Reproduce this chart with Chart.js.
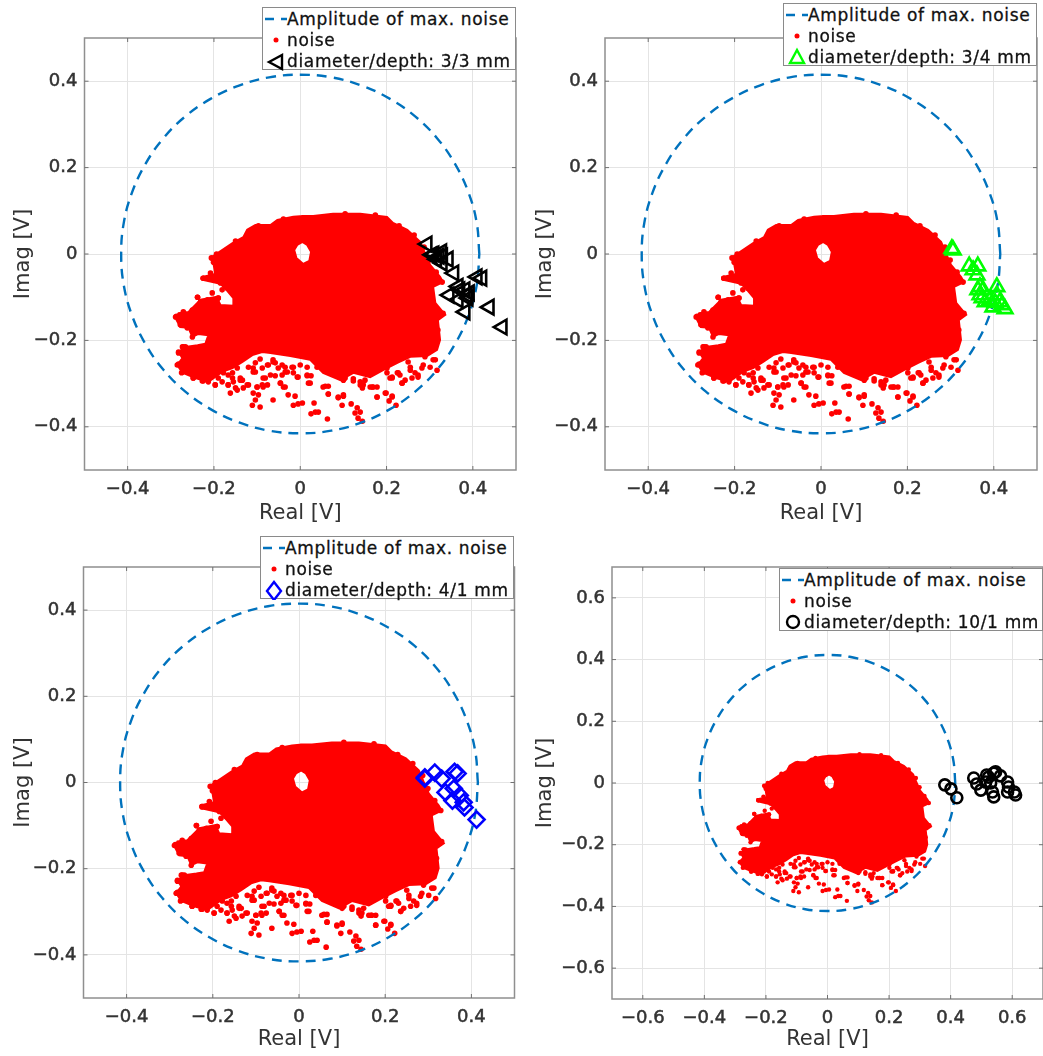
<!DOCTYPE html>
<html lang="en">
<head>
<meta charset="UTF-8" />
<title>Noise amplitude vs defects</title>
<script src="https://cdn.jsdelivr.net/npm/chart.js"></script>
<style>
  html, body { margin: 0; padding: 0; background: #fff; }
  #page { position: relative; width: 1043px; height: 1056px; overflow: hidden; }
  canvas { position: absolute; }
  .legend { position: absolute; box-sizing: border-box; background: #fff; border: 1.5px solid #8a8a8a; }
  .legend div { position: absolute; left: 24px; white-space: nowrap; color: #111;
    font: 17px "DejaVu Sans", sans-serif; letter-spacing: 0.65px; line-height: 20px;
    -webkit-text-stroke: 0.3px #111; }
  .legend svg { position: absolute; left: 0; top: 0; }
</style>
</head>
<body>
<div id="page">
  <canvas id="chart1"></canvas>
  <canvas id="chart2"></canvas>
  <canvas id="chart3"></canvas>
  <canvas id="chart4"></canvas>
</div>

<script>
  // circle of max. noise amplitude
  const circleRe = [0.415,0.409,0.390,0.359,0.318,0.267,0.208,0.142,0.072,0,-0.072,-0.142,-0.208,-0.267,-0.318,-0.359,-0.390,-0.409,-0.415,-0.409,-0.390,-0.359,-0.318,-0.267,-0.208,-0.142,-0.072,0,0.072,0.142,0.208,0.267,0.318,0.359,0.390,0.409,0.415];
  const circleIm = [0,0.072,0.142,0.208,0.267,0.318,0.359,0.390,0.409,0.415,0.409,0.390,0.359,0.318,0.267,0.208,0.142,0.072,0,-0.072,-0.142,-0.208,-0.267,-0.318,-0.359,-0.390,-0.409,-0.415,-0.409,-0.390,-0.359,-0.318,-0.267,-0.208,-0.142,-0.072,0];

  // edge of the dense noise cloud, runs through the hole near the origin
  const cloudRe = [-0.208,-0.181,-0.157,-0.132,-0.123,-0.104,-0.069,-0.053,-0.016,0.005,0.005,-0.007,-0.014,-0.009,0.007,0.021,0.025,0.016,0.005,0.005,0.030,0.076,0.139,0.201,0.215,0.248,0.278,0.289,0.301,0.324,0.331,0.308,0.313,0.336,0.319,0.324,0.317,0.294,0.255,0.225,0.192,0.162,0.123,0.093,0.053,0.023,-0.023,-0.069,-0.088,-0.111,-0.134,-0.157,-0.181,-0.213,-0.243,-0.273,-0.285,-0.273,-0.282,-0.266,-0.238,-0.220,-0.213,-0.236,-0.250,-0.259,-0.278,-0.289,-0.282,-0.259,-0.231,-0.194,-0.185,-0.155,-0.155,-0.171,-0.185,-0.225,-0.227,-0.197,-0.201,-0.208];
  const cloudIm = [-0.009,0.009,0.025,0.039,0.056,0.067,0.067,0.079,0.086,0.088,0.028,0.021,0.009,-0.009,-0.023,-0.016,0.005,0.021,0.028,0.088,0.088,0.093,0.093,0.086,0.072,0.056,0.028,0.002,-0.025,-0.053,-0.065,-0.076,-0.113,-0.141,-0.153,-0.199,-0.222,-0.236,-0.238,-0.252,-0.269,-0.285,-0.275,-0.292,-0.275,-0.245,-0.236,-0.229,-0.227,-0.234,-0.250,-0.264,-0.273,-0.296,-0.287,-0.275,-0.257,-0.241,-0.227,-0.215,-0.211,-0.208,-0.188,-0.185,-0.192,-0.171,-0.169,-0.148,-0.137,-0.134,-0.106,-0.099,-0.118,-0.120,-0.102,-0.083,-0.069,-0.060,-0.053,-0.046,-0.023,-0.009];

  // separate noise dots around the cloud
  const noiseRe = [-0.197,-0.162,-0.167,-0.150,-0.132,-0.120,-0.139,-0.157,-0.104,-0.074,-0.086,-0.088,-0.076,-0.069,-0.058,-0.100,-0.109,-0.097,-0.104,-0.111,-0.093,-0.063,-0.046,-0.035,-0.042,-0.028,-0.012,-0.016,-0.005,0.005,-0.016,-0.007,0.016,0.025,0.019,0.053,0.065,0.065,0.032,0.025,0.035,0.042,0.063,0.088,0.100,0.097,0.118,0.132,0.127,0.139,0.134,0.144,0.178,0.199,0.213,0.206,0.222,0.236,0.213,0.169,0.144,0.123,0.100,0.259,-0.282,-0.271,-0.285,-0.275,-0.248,-0.227,-0.213,-0.225,-0.208,-0.238,-0.204,-0.231,-0.213,-0.204,-0.190,-0.199,-0.174,-0.167,-0.139,-0.150,-0.127,-0.185,-0.181,-0.287,-0.271,-0.250,-0.234,
    -0.063,-0.042,-0.035,-0.046,-0.039,-0.016,-0.005,0.016,0.023,0.058,0.065,0.088,0.100,0.051,0.076,0.104,0.123,0.139,0.150,0.167,0.178,0.178,0.197,0.213,0.213,0.236,0.227,0.201,0.255,0.266,0.273,0.301,0.317,0.313,0.285,0.250,
    -0.167,-0.178,-0.155,-0.134,-0.167,-0.146,-0.123,-0.109,-0.120,-0.104,-0.093,-0.076,-0.063,-0.081,-0.086,-0.100,-0.197,-0.248,-0.225,-0.273,-0.282,-0.255,-0.282,-0.273,-0.266,-0.255,-0.289,-0.278,-0.262,-0.250,-0.238,-0.231,-0.215,-0.208,-0.190,-0.225,-0.208,-0.181,-0.169,-0.155,-0.130,
    0.329,0.331,0.319,0.308,0.282,0.273,0.255,0.289,-0.194,-0.206,-0.201,-0.150,-0.118,-0.097,-0.039,0.104,0.174,0.229,0.264,0.287,0.299,0.315,
    -0.146,-0.088,-0.058,-0.051,-0.035,-0.019,0,-0.030,0.016,0.039,0.063,0.139,0.146,0.162,0.201,0.225,0.231,0.208,0.243,-0.157,-0.139,-0.109,-0.190,-0.181];
  const noiseIm = [-0.303,-0.322,-0.303,-0.310,-0.310,-0.303,-0.287,-0.275,-0.273,-0.257,-0.287,-0.303,-0.303,-0.280,-0.282,-0.308,-0.322,-0.326,-0.338,-0.350,-0.354,-0.338,-0.299,-0.308,-0.280,-0.326,-0.329,-0.350,-0.347,-0.345,-0.275,-0.285,-0.282,-0.282,-0.299,-0.308,-0.306,-0.324,-0.345,-0.370,-0.366,-0.366,-0.382,-0.333,-0.329,-0.350,-0.347,-0.356,-0.368,-0.366,-0.380,-0.387,-0.331,-0.322,-0.329,-0.340,-0.350,-0.299,-0.287,-0.308,-0.310,-0.294,-0.292,-0.287,-0.229,-0.215,-0.257,-0.275,-0.287,-0.294,-0.296,-0.056,-0.044,-0.100,-0.090,-0.111,-0.111,-0.123,-0.102,-0.056,-0.053,-0.067,-0.079,-0.083,-0.081,-0.067,-0.083,-0.144,-0.134,-0.130,-0.132,
    -0.245,-0.257,-0.273,-0.299,-0.308,-0.262,-0.285,-0.280,-0.299,-0.306,-0.324,-0.331,-0.326,-0.262,-0.275,-0.287,-0.289,-0.303,-0.292,-0.308,-0.308,-0.331,-0.322,-0.331,-0.285,-0.299,-0.275,-0.264,-0.262,-0.275,-0.285,-0.262,-0.269,-0.245,-0.257,-0.250,
    -0.280,-0.275,-0.296,-0.292,-0.303,-0.315,-0.303,-0.264,-0.262,-0.252,-0.243,-0.257,-0.250,-0.287,-0.308,-0.308,-0.303,-0.287,-0.294,-0.273,-0.255,-0.257,-0.227,-0.215,-0.215,-0.234,-0.146,-0.164,-0.171,-0.192,-0.100,-0.111,-0.106,-0.123,-0.102,-0.056,-0.053,-0.065,-0.079,-0.072,-0.081,
    -0.065,-0.137,-0.176,-0.245,-0.264,-0.280,-0.269,-0.238,0,-0.009,-0.019,0.030,0.049,0.065,0.081,0.093,0.090,0.065,0.044,0.016,-0.014,-0.042,
    -0.264,-0.264,-0.252,-0.264,-0.262,-0.262,-0.257,-0.273,-0.262,-0.262,-0.269,-0.296,-0.303,-0.308,-0.275,-0.275,-0.280,-0.287,-0.292,-0.287,-0.292,-0.273,-0.287,-0.296];

  // defect measurements per panel
  const defect33Re = [0.294,0.322,0.310,0.330,0.316,0.328,0.305,0.343,0.329,0.356,0.410,0.421,0.345,0.366,0.370,0.382,0.387,0.389,0.382,0.438,0.468,0.366,0.392];
  const defect33Im = [0.023,-0.005,0,-0.005,-0.012,0.005,-0.002,-0.012,-0.021,-0.044,-0.053,-0.056,-0.095,-0.106,-0.083,-0.083,-0.095,-0.102,-0.134,-0.123,-0.169,-0.075,-0.090];
  const defect34Re = [0.306,0.303,0.343,0.363,0.352,0.361,0.368,0.363,0.375,0.368,0.373,0.380,0.391,0.407,0.407,0.403,0.414,0.398,0.426,0.419];
  const defect34Im = [0.009,0.012,-0.028,-0.028,-0.037,-0.049,-0.076,-0.083,-0.083,-0.095,-0.102,-0.111,-0.106,-0.076,-0.095,-0.113,-0.111,-0.123,-0.127,-0.118];
  const defect41Re = [0.292,0.292,0.315,0.331,0.340,0.359,0.356,0.373,0.382,0.384,0.361,0.368,0.412];
  const defect41Im = [0.009,0.012,0.023,0.009,-0.023,-0.014,-0.042,-0.030,-0.046,-0.058,0.025,0.021,-0.086];
  const defect101Re = [0.381,0.401,0.420,0.475,0.485,0.498,0.514,0.523,0.540,0.546,0.562,0.530,0.517,0.540,0.536,0.585,0.588,0.585,0.607,0.611];
  const defect101Im = [-0.006,-0.019,-0.048,0.016,-0.003,-0.023,0.003,0.019,0.032,0.036,0.023,0,0.026,-0.045,-0.029,0.003,-0.013,-0.029,-0.029,-0.039];

  // tick labels
  const ticksSmall = [-0.4,-0.2,0,0.2,0.4];
  const ticksLarge = [-0.6,-0.4,-0.2,0,0.2,0.4,0.6];

  const legendCircle = 'Amplitude of max. noise';
  const legendNoise = 'noise';
  const AXIS_COLOR = '#8f8f8f';
  const TEXT_COLOR = '#333333';

  function toPoints(xs, ys) {
    return xs.map((x, i) => ({ x: x, y: ys[i] }));
  }

  // frame and inward tick marks on all four sides, like the original plots
  const framePlugin = {
    id: 'frame',
    afterDraw(chart) {
      const ctx = chart.ctx, a = chart.chartArea;
      const xs = chart.scales.x, ys = chart.scales.y;
      ctx.save();
      ctx.strokeStyle = AXIS_COLOR;
      ctx.lineWidth = 1.5;
      ctx.strokeRect(a.left, a.top, a.right - a.left, a.bottom - a.top);
      ctx.lineWidth = 1;
      ctx.strokeStyle = '#707070';
      ctx.beginPath();
      xs.ticks.forEach(t => {
        const px = xs.getPixelForValue(t.value);
        ctx.moveTo(px, a.bottom); ctx.lineTo(px, a.bottom - 4);
        ctx.moveTo(px, a.top); ctx.lineTo(px, a.top + 4);
      });
      ys.ticks.forEach(t => {
        const py = ys.getPixelForValue(t.value);
        ctx.moveTo(a.left, py); ctx.lineTo(a.left + 4, py);
        ctx.moveTo(a.right, py); ctx.lineTo(a.right - 4, py);
      });
      ctx.stroke();
      ctx.restore();
    }
  };

  function makeAxis(cfg, ticks, min, max, title, isX) {
    return {
      type: 'linear',
      min: min,
      max: max,
      afterBuildTicks(scale) { scale.ticks = ticks.map(v => ({ value: v })); },
      afterFit(scale) {
        if (isX) scale.height = cfg.canvas[3] - cfg.plot[3];
        else scale.width = cfg.plot[0];
      },
      grid: { color: '#e4e4e4', lineWidth: 1, drawTicks: false },
      border: { display: false },
      ticks: {
        color: TEXT_COLOR,
        textStrokeColor: TEXT_COLOR,
        textStrokeWidth: 0.5,
        padding: isX ? 9 : 7,
        maxRotation: 0,
        autoSkip: false,
        font: { family: '"DejaVu Sans", sans-serif', size: 18 },
        callback: v => String(v).replace('-', '\u2212')
      },
      title: {
        display: true,
        text: title,
        color: TEXT_COLOR,
        font: { family: '"DejaVu Sans", sans-serif', size: 21 },
        padding: isX ? { top: 0, bottom: 4 } : { top: 11, bottom: 0 }
      }
    };
  }

  function makePanel(cfg) {
    const canvas = document.getElementById(cfg.id);
    canvas.width = cfg.canvas[2];
    canvas.height = cfg.canvas[3];
    canvas.style.left = cfg.canvas[0] + 'px';
    canvas.style.top = cfg.canvas[1] + 'px';
    new Chart(canvas.getContext('2d'), {
      type: 'scatter',
      data: {
        datasets: [
          {
            label: cfg.label,
            data: toPoints(cfg.re, cfg.im),
            pointStyle: cfg.marker,
            pointRotation: cfg.rotation || 0,
            pointRadius: cfg.size,
            pointBorderWidth: 2.6,
            pointBorderColor: cfg.color,
            pointBackgroundColor: 'rgba(0,0,0,0)',
            order: 1
          },
          {
            label: legendCircle,
            data: toPoints(circleRe, circleIm),
            showLine: true,
            tension: 0.4,
            borderColor: '#0072bd',
            borderWidth: 2.4,
            borderDash: [10, 7],
            pointRadius: 0,
            order: 2
          },
          {
            label: legendNoise,
            data: toPoints(noiseRe, noiseIm),
            pointRadius: cfg.dot,
            pointBorderWidth: 0,
            pointBackgroundColor: '#ff0000',
            order: 3
          },
          {
            label: 'noise cloud',
            data: toPoints(cloudRe, cloudIm),
            showLine: true,
            fill: 'shape',
            backgroundColor: '#ff0000',
            borderColor: '#ff0000',
            borderWidth: 2,
            pointRadius: 0,
            order: 4
          }
        ]
      },
      options: {
        responsive: false,
        animation: false,
        layout: {
          autoPadding: false,
          padding: {
            top: cfg.plot[1],
            right: cfg.canvas[2] - cfg.plot[2],
            left: 0,
            bottom: 0
          }
        },
        scales: {
          x: makeAxis(cfg, cfg.ticks, cfg.min, cfg.max, 'Real [V]', true),
          y: makeAxis(cfg, cfg.ticks, cfg.min, cfg.max, 'Imag [V]', false)
        },
        plugins: {
          legend: { display: false },
          tooltip: { enabled: false }
        }
      },
      plugins: [framePlugin]
    });
    addLegend(cfg);
  }

  // legend box sits partly above the axes so it is laid over the canvas
  function addLegend(cfg) {
    const [left, top, w, h] = cfg.legend;
    const box = document.createElement('div');
    box.className = 'legend';
    box.style.cssText = `left:${left}px;top:${top}px;width:${w}px;height:${h}px`;
    const c = 13, r = cfg.color;
    const icons = {
      triangleLeft: `<polygon points="${c - 7},54 ${c + 6},47 ${c + 6},61" fill="none" stroke="${r}" stroke-width="2.4"/>`,
      triangleUp: `<polygon points="${c},46 ${c + 7},59 ${c - 7},59" fill="none" stroke="${r}" stroke-width="2.4"/>`,
      diamond: `<polygon points="${c},45 ${c + 7},54 ${c},63 ${c - 7},54" fill="none" stroke="${r}" stroke-width="2.4"/>`,
      circle: `<circle cx="${c}" cy="53" r="6" fill="none" stroke="${r}" stroke-width="2.4"/>`
    };
    box.innerHTML =
      `<svg width="24" height="${h}">
        <line x1="2" x2="24" y1="11" y2="11" stroke="#0072bd" stroke-width="2.4" stroke-dasharray="9 7"/>
        <circle cx="${c}" cy="32" r="2.5" fill="#ff0000"/>
        ${icons[cfg.legendIcon]}
      </svg>
      <div style="top:1px">${legendCircle}</div>
      <div style="top:22px">${legendNoise}</div>
      <div style="top:43px">${cfg.label}</div>`;
    document.getElementById('page').appendChild(box);
  }

  makePanel({
    id: 'chart1', canvas: [0, 0, 522, 530], plot: [84.5, 38, 516, 470],
    ticks: ticksSmall, min: -0.5, max: 0.5, dot: 2.8,
    re: defect33Re, im: defect33Im, label: 'diameter/depth: 3/3 mm',
    marker: 'triangle', rotation: -90, size: 8.5, color: '#000000',
    legend: [262, 7, 254, 63], legendIcon: 'triangleLeft'
  });
  makePanel({
    id: 'chart2', canvas: [522, 0, 521, 530], plot: [83, 38, 515, 470],
    ticks: ticksSmall, min: -0.5, max: 0.5, dot: 2.8,
    re: defect34Re, im: defect34Im, label: 'diameter/depth: 3/4 mm',
    marker: 'triangle', size: 8.5, color: '#00ff00',
    legend: [783, 3, 254, 63], legendIcon: 'triangleUp'
  });
  makePanel({
    id: 'chart3', canvas: [0, 530, 522, 526], plot: [83.5, 37, 514.5, 468],
    ticks: ticksSmall, min: -0.5, max: 0.5, dot: 2.8,
    re: defect41Re, im: defect41Im, label: 'diameter/depth: 4/1 mm',
    marker: 'rectRot', size: 8, color: '#0000ff',
    legend: [260, 536, 254, 63], legendIcon: 'diamond'
  });
  makePanel({
    id: 'chart4', canvas: [522, 530, 521, 526], plot: [90, 37, 521, 469],
    ticks: ticksLarge, min: -0.7, max: 0.7, dot: 2.2,
    re: defect101Re, im: defect101Im, label: 'diameter/depth: 10/1 mm',
    marker: 'circle', size: 5.5, color: '#000000',
    legend: [779, 568, 264, 63], legendIcon: 'circle'
  });
</script>
</body>
</html>
